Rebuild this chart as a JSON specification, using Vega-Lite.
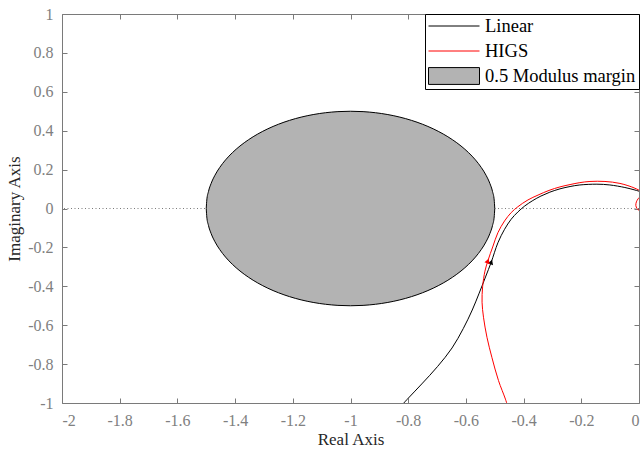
{
  "$schema": "https://vega.github.io/schema/vega-lite/v6.json",
  "width": 577,
  "height": 389,
  "autosize": {"type": "none"},
  "padding": {"left": 62, "top": 14, "right": 2, "bottom": 47},
  "background": "white",
  "config": {
    "view": {"stroke": "#7a7a7a", "strokeWidth": 1},
    "font": "Liberation Serif",
    "axis": {
      "labelFont": "Liberation Serif",
      "labelFontSize": 16,
      "labelColor": "#808080",
      "titleFont": "Liberation Serif",
      "titleFontSize": 17,
      "titleColor": "#262626",
      "titleFontWeight": "normal",
      "tickColor": "#7a7a7a",
      "tickSize": -5,
      "tickWidth": 1,
      "domain": false,
      "grid": false
    },
    "legend": {
      "orient": "top-right",
      "offset": 0,
      "padding": 3,
      "strokeColor": "#000000",
      "fillColor": "white",
      "labelFont": "Liberation Serif",
      "labelFontSize": 18.5,
      "labelColor": "#000000",
      "symbolType": "M-1,0H1",
      "symbolSize": 2601,
      "symbolStrokeWidth": 1,
      "clipHeight": 18,
      "rowPadding": 6,
      "labelOffset": 5,
      "zindex": 1
    }
  },
  "datasets": {
    "circle": [
      {"x": -1.5, "hi": 0, "lo": 0},
      {"x": -1.4981, "hi": 0.04358, "lo": -0.04358},
      {"x": -1.4924, "hi": 0.08682, "lo": -0.08682},
      {"x": -1.48296, "hi": 0.12941, "lo": -0.12941},
      {"x": -1.46985, "hi": 0.17101, "lo": -0.17101},
      {"x": -1.45315, "hi": 0.21131, "lo": -0.21131},
      {"x": -1.43301, "hi": 0.25, "lo": -0.25},
      {"x": -1.40958, "hi": 0.28679, "lo": -0.28679},
      {"x": -1.38302, "hi": 0.32139, "lo": -0.32139},
      {"x": -1.35355, "hi": 0.35355, "lo": -0.35355},
      {"x": -1.32139, "hi": 0.38302, "lo": -0.38302},
      {"x": -1.28679, "hi": 0.40958, "lo": -0.40958},
      {"x": -1.25, "hi": 0.43301, "lo": -0.43301},
      {"x": -1.21131, "hi": 0.45315, "lo": -0.45315},
      {"x": -1.17101, "hi": 0.46985, "lo": -0.46985},
      {"x": -1.12941, "hi": 0.48296, "lo": -0.48296},
      {"x": -1.08682, "hi": 0.4924, "lo": -0.4924},
      {"x": -1.04358, "hi": 0.4981, "lo": -0.4981},
      {"x": -1, "hi": 0.5, "lo": -0.5},
      {"x": -0.95642, "hi": 0.4981, "lo": -0.4981},
      {"x": -0.91318, "hi": 0.4924, "lo": -0.4924},
      {"x": -0.87059, "hi": 0.48296, "lo": -0.48296},
      {"x": -0.82899, "hi": 0.46985, "lo": -0.46985},
      {"x": -0.78869, "hi": 0.45315, "lo": -0.45315},
      {"x": -0.75, "hi": 0.43301, "lo": -0.43301},
      {"x": -0.71321, "hi": 0.40958, "lo": -0.40958},
      {"x": -0.67861, "hi": 0.38302, "lo": -0.38302},
      {"x": -0.64645, "hi": 0.35355, "lo": -0.35355},
      {"x": -0.61698, "hi": 0.32139, "lo": -0.32139},
      {"x": -0.59042, "hi": 0.28679, "lo": -0.28679},
      {"x": -0.56699, "hi": 0.25, "lo": -0.25},
      {"x": -0.54685, "hi": 0.21131, "lo": -0.21131},
      {"x": -0.53015, "hi": 0.17101, "lo": -0.17101},
      {"x": -0.51704, "hi": 0.12941, "lo": -0.12941},
      {"x": -0.5076, "hi": 0.08682, "lo": -0.08682},
      {"x": -0.5019, "hi": 0.04358, "lo": -0.04358},
      {"x": -0.5, "hi": 0, "lo": 0}
    ],
    "linear": [
      {"series": "Linear", "i": 1, "x": -0.84, "y": -1.04},
      {"series": "Linear", "i": 2, "x": -0.804, "y": -0.982},
      {"series": "Linear", "i": 3, "x": -0.753, "y": -0.902},
      {"series": "Linear", "i": 4, "x": -0.698, "y": -0.812},
      {"series": "Linear", "i": 5, "x": -0.648, "y": -0.717},
      {"series": "Linear", "i": 6, "x": -0.609, "y": -0.617},
      {"series": "Linear", "i": 7, "x": -0.578, "y": -0.522},
      {"series": "Linear", "i": 8, "x": -0.555, "y": -0.439},
      {"series": "Linear", "i": 9, "x": -0.532, "y": -0.352},
      {"series": "Linear", "i": 10, "x": -0.512, "y": -0.275},
      {"series": "Linear", "i": 11, "x": -0.489, "y": -0.176},
      {"series": "Linear", "i": 12, "x": -0.466, "y": -0.107},
      {"series": "Linear", "i": 13, "x": -0.443, "y": -0.055},
      {"series": "Linear", "i": 14, "x": -0.42, "y": -0.018},
      {"series": "Linear", "i": 15, "x": -0.396, "y": 0.013},
      {"series": "Linear", "i": 16, "x": -0.368, "y": 0.041},
      {"series": "Linear", "i": 17, "x": -0.34, "y": 0.064},
      {"series": "Linear", "i": 18, "x": -0.309, "y": 0.084},
      {"series": "Linear", "i": 19, "x": -0.274, "y": 0.101},
      {"series": "Linear", "i": 20, "x": -0.239, "y": 0.113},
      {"series": "Linear", "i": 21, "x": -0.205, "y": 0.121},
      {"series": "Linear", "i": 22, "x": -0.146, "y": 0.125},
      {"series": "Linear", "i": 23, "x": -0.101, "y": 0.121},
      {"series": "Linear", "i": 24, "x": -0.049, "y": 0.108},
      {"series": "Linear", "i": 25, "x": -0.014, "y": 0.095},
      {"series": "Linear", "i": 26, "x": 0.021, "y": 0.08}
    ],
    "higs": [
      {"series": "HIGS", "i": 1, "x": -0.452, "y": -1.032},
      {"series": "HIGS", "i": 2, "x": -0.463, "y": -0.98},
      {"series": "HIGS", "i": 3, "x": -0.487, "y": -0.885},
      {"series": "HIGS", "i": 4, "x": -0.51, "y": -0.765},
      {"series": "HIGS", "i": 5, "x": -0.527, "y": -0.662},
      {"series": "HIGS", "i": 6, "x": -0.539, "y": -0.559},
      {"series": "HIGS", "i": 7, "x": -0.544, "y": -0.482},
      {"series": "HIGS", "i": 8, "x": -0.542, "y": -0.402},
      {"series": "HIGS", "i": 9, "x": -0.534, "y": -0.322},
      {"series": "HIGS", "i": 10, "x": -0.524, "y": -0.27},
      {"series": "HIGS", "i": 11, "x": -0.506, "y": -0.193},
      {"series": "HIGS", "i": 12, "x": -0.489, "y": -0.124},
      {"series": "HIGS", "i": 13, "x": -0.466, "y": -0.064},
      {"series": "HIGS", "i": 14, "x": -0.443, "y": -0.021},
      {"series": "HIGS", "i": 15, "x": -0.42, "y": 0.009},
      {"series": "HIGS", "i": 16, "x": -0.385, "y": 0.044},
      {"series": "HIGS", "i": 17, "x": -0.35, "y": 0.069},
      {"series": "HIGS", "i": 18, "x": -0.312, "y": 0.093},
      {"series": "HIGS", "i": 19, "x": -0.274, "y": 0.111},
      {"series": "HIGS", "i": 20, "x": -0.239, "y": 0.123},
      {"series": "HIGS", "i": 21, "x": -0.205, "y": 0.133},
      {"series": "HIGS", "i": 22, "x": -0.17, "y": 0.139},
      {"series": "HIGS", "i": 23, "x": -0.118, "y": 0.139},
      {"series": "HIGS", "i": 24, "x": -0.066, "y": 0.129},
      {"series": "HIGS", "i": 25, "x": -0.014, "y": 0.104},
      {"series": "HIGS", "i": 26, "x": 0.007, "y": 0.085},
      {"series": "HIGS", "i": 27, "x": 0.004, "y": 0.062},
      {"series": "HIGS", "i": 28, "x": -0.003, "y": 0.05},
      {"series": "HIGS", "i": 29, "x": -0.009, "y": 0.034},
      {"series": "HIGS", "i": 30, "x": -0.011, "y": 0.016},
      {"series": "HIGS", "i": 31, "x": -0.007, "y": 0.0},
      {"series": "HIGS", "i": 32, "x": 0.0, "y": -0.009},
      {"series": "HIGS", "i": 33, "x": 0.008, "y": -0.012}
    ],
    "arrows": [
      {"series": "Linear", "x": -0.512, "y": -0.275},
      {"series": "HIGS", "x": -0.524, "y": -0.27}
    ]
  },
  "resolve": {"axis": {"x": "independent", "y": "independent"}},
  "layer": [
    {
      "data": {"values": [{"v": 0}]},
      "mark": {"type": "rule", "color": "#7a7a7a", "strokeWidth": 1, "strokeDash": [1, 2.5]},
      "encoding": {
        "y": {"field": "v", "type": "quantitative", "scale": {"domain": [-1, 1], "nice": false, "zero": false}, "axis": null}
      }
    },
    {
      "data": {"name": "circle"},
      "mark": {"type": "area", "fill": "#b3b3b3", "stroke": "#000000", "strokeWidth": 1, "interpolate": "monotone", "opacity": 1, "fillOpacity": 1},
      "encoding": {
        "x": {
          "field": "x", "type": "quantitative",
          "scale": {"domain": [-2, 0], "nice": false, "zero": false},
          "axis": {
            "orient": "bottom",
            "values": [-2, -1.8, -1.6, -1.4, -1.2, -1, -0.8, -0.6, -0.4, -0.2, 0],
            "format": ".1~f",
            "labelExpr": "replace(datum.label, '−', '-')",
            "labelPadding": 14,
            "title": "Real Axis",
            "titlePadding": 3
          }
        },
        "y": {
          "field": "hi", "type": "quantitative",
          "scale": {"domain": [-1, 1], "nice": false, "zero": false},
          "axis": {
            "orient": "left",
            "values": [-1, -0.8, -0.6, -0.4, -0.2, 0, 0.2, 0.4, 0.6, 0.8, 1],
            "format": ".1~f",
            "labelExpr": "replace(datum.label, '−', '-')",
            "labelPadding": 14,
            "title": "Imaginary Axis",
            "titlePadding": 4
          }
        },
        "y2": {"field": "lo"}
      }
    },
    {
      "data": {"name": "linear"},
      "mark": {"type": "line", "strokeWidth": 1, "clip": true, "interpolate": "catmull-rom"},
      "encoding": {
        "x": {
          "field": "x", "type": "quantitative",
          "scale": {"domain": [-2, 0], "nice": false, "zero": false},
          "axis": {
            "orient": "top",
            "values": [-2, -1.8, -1.6, -1.4, -1.2, -1, -0.8, -0.6, -0.4, -0.2, 0],
            "labels": false,
            "title": null
          }
        },
        "y": {
          "field": "y", "type": "quantitative",
          "scale": {"domain": [-1, 1], "nice": false, "zero": false},
          "axis": {
            "orient": "right",
            "values": [-1, -0.8, -0.6, -0.4, -0.2, 0, 0.2, 0.4, 0.6, 0.8, 1],
            "labels": false,
            "title": null
          }
        },
        "order": {"field": "i", "type": "quantitative"},
        "stroke": {
          "field": "series", "type": "nominal",
          "scale": {"domain": ["Linear", "HIGS", "0.5 Modulus margin"], "range": ["#000000", "#ff0000", "#000000"]},
          "legend": {
            "title": null,
            "encode": {
              "symbols": {
                "update": {
                  "shape": {"signal": "datum.value === '0.5 Modulus margin' ? 'M-1,-0.33H1V0.33H-1Z' : 'M-1,0H1'"},
                  "fill": {"signal": "datum.value === '0.5 Modulus margin' ? '#b3b3b3' : 'transparent'"},
                  "fillOpacity": {"value": 1},
                  "strokeWidth": {"value": 1}
                }
              }
            }
          }
        }
      }
    },
    {
      "data": {"name": "higs"},
      "mark": {"type": "line", "strokeWidth": 1, "clip": true, "interpolate": "catmull-rom"},
      "encoding": {
        "x": {"field": "x", "type": "quantitative", "scale": {"domain": [-2, 0], "nice": false, "zero": false}, "axis": null},
        "y": {"field": "y", "type": "quantitative", "scale": {"domain": [-1, 1], "nice": false, "zero": false}, "axis": null},
        "order": {"field": "i", "type": "quantitative"},
        "stroke": {"field": "series", "type": "nominal"}
      }
    },
    {
      "data": {"name": "arrows"},
      "mark": {"type": "point", "shape": "triangle-up", "filled": true, "size": 30, "angle": 20, "opacity": 1, "strokeWidth": 0},
      "encoding": {
        "x": {"field": "x", "type": "quantitative", "scale": {"domain": [-2, 0], "nice": false, "zero": false}, "axis": null},
        "y": {"field": "y", "type": "quantitative", "scale": {"domain": [-1, 1], "nice": false, "zero": false}, "axis": null},
        "fill": {
          "field": "series", "type": "nominal",
          "scale": {"domain": ["Linear", "HIGS"], "range": ["#000000", "#ff0000"]},
          "legend": null
        }
      }
    }
  ]
}
